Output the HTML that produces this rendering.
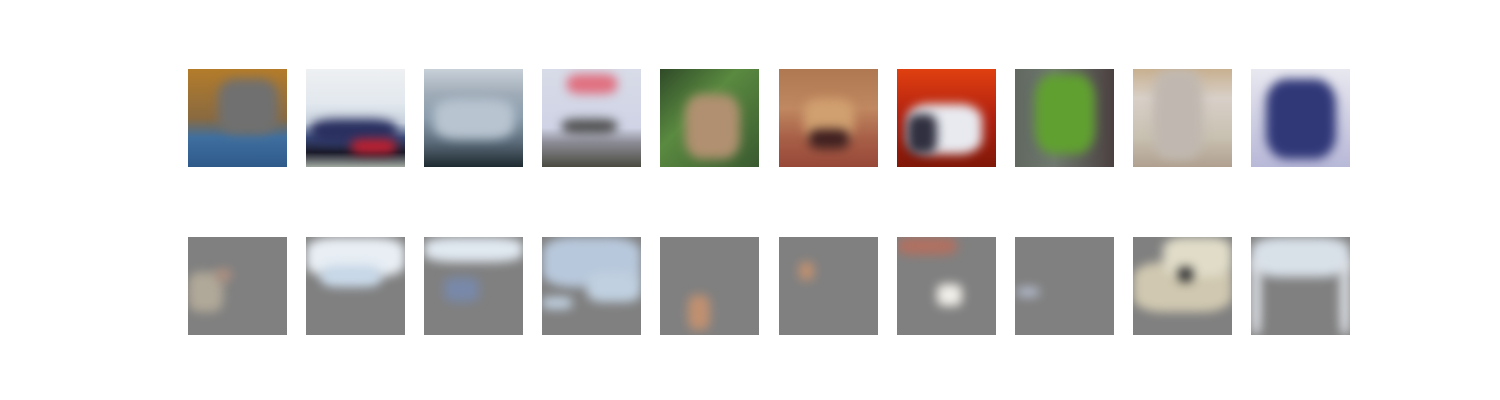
<!DOCTYPE html>
<html><head><meta charset="utf-8"><style>
body{margin:0;background:#fff;width:1500px;height:400px;position:relative;overflow:hidden;font-family:"Liberation Sans",sans-serif}
.im{position:absolute;width:99px;height:98px;overflow:hidden}
.b{position:absolute;filter:blur(5px)}
.g{background:#808080}
</style></head><body>
<div id="fig"></div>
<script>
const xs=[188,306,424,542,660,779,897,1015,1133,1251];
const topBg=[
 'linear-gradient(180deg,#b47c2a 0%,#8a6a40 50%,#3f6f9f 70%,#2e5a8a 100%)',
 'linear-gradient(180deg,#eef0f2 0%,#e2e8ee 35%,#c8d2de 55%,#3a4a7a 70%,#1a1a2a 85%,#a0a8a0 100%)',
 'linear-gradient(180deg,#c8d0d8 0%,#a0acb8 25%,#8a9cac 50%,#5a6a78 75%,#1e2a30 100%)',
 'linear-gradient(180deg,#d8dce8 0%,#cfd3e5 60%,#8c8c96 75%,#4a4a40 100%)',
 'linear-gradient(135deg,#2f4a28 0%,#5a8a40 40%,#3a5a30 100%)',
 'linear-gradient(180deg,#b07850 0%,#c08860 40%,#a86048 70%,#984838 100%)',
 'linear-gradient(180deg,#e04010 0%,#b02010 50%,#801808 100%)',
 'linear-gradient(90deg,#606860 0%,#707870 40%,#4a4040 100%)',
 'linear-gradient(180deg,#c8b090 0%,#d8d0c8 30%,#c8c0b0 70%,#b0a090 100%)',
 'linear-gradient(180deg,#e8e8f0 0%,#d0d0e4 50%,#b8b8d8 100%)'];
const topBlobs=[
 [[30,10,60,55,'#707070']],
 [[5,50,85,25,'#2a3060'],[45,70,45,15,'#c02030']],
 [[10,30,80,40,'#b8c4d0']],
 [[20,50,55,15,'#505050'],[25,5,50,20,'#e07080']],
 [[25,25,55,65,'#b09070']],
 [[25,30,50,40,'#d0a070'],[30,60,40,20,'#402020']],
 [[10,35,75,50,'#e8eaf0'],[10,45,30,40,'#303040']],
 [[20,5,60,80,'#60a030']],
 [[20,0,50,90,'#c0b8b0']],
 [[15,10,70,80,'#303878']]];
const botBlobs=[
 [[0,35,35,40,'#b0a898'],[28,32,15,12,'#b09080']],
 [[0,0,99,40,'#e8eef4'],[15,28,60,22,'#c8d8e8']],
 [[0,0,99,25,'#e0e8f0'],[20,40,35,25,'#7888a8']],
 [[0,0,99,50,'#b8c8dc'],[45,35,54,30,'#c0d0e0'],[0,60,30,12,'#c0d0e0']],
 [[28,58,22,35,'#c09070']],
 [[20,25,15,18,'#c09070']],
 [[0,0,60,18,'#b07060'],[40,47,25,22,'#f0eee8']],
 [[2,50,22,10,'#b0b8c8']],
 [[0,25,99,50,'#d0c8b0'],[30,0,69,40,'#e0dcc8'],[45,30,15,15,'#303030']],
 [[0,0,99,40,'#d8e0e8'],[0,20,10,78,'#e0e4ea'],[89,20,10,78,'#e0e4ea']]];
const fig=document.getElementById('fig');
function mk(x,y,bg,blobs,i,row){
 const d=document.createElement('div');
 d.className='im';d.style.left=x+'px';d.style.top=y+'px';d.style.background=bg;
 
 
 blobs.forEach(b=>{const e=document.createElement('div');e.className='b';
  e.style.left=b[0]+'px';e.style.top=b[1]+'px';e.style.width=b[2]+'px';e.style.height=b[3]+'px';e.style.background=b[4];
  e.style.borderRadius='30%';d.appendChild(e);});
 if(row==='reconstructed'){const o=document.createElement('div');}
 fig.appendChild(d);
}
xs.forEach((x,i)=>{
 mk(x,69,topBg[i],topBlobs[i],i,'original');
 mk(x,237,'#808080',botBlobs[i],i,'reconstructed');
});
</script>
</body></html>
